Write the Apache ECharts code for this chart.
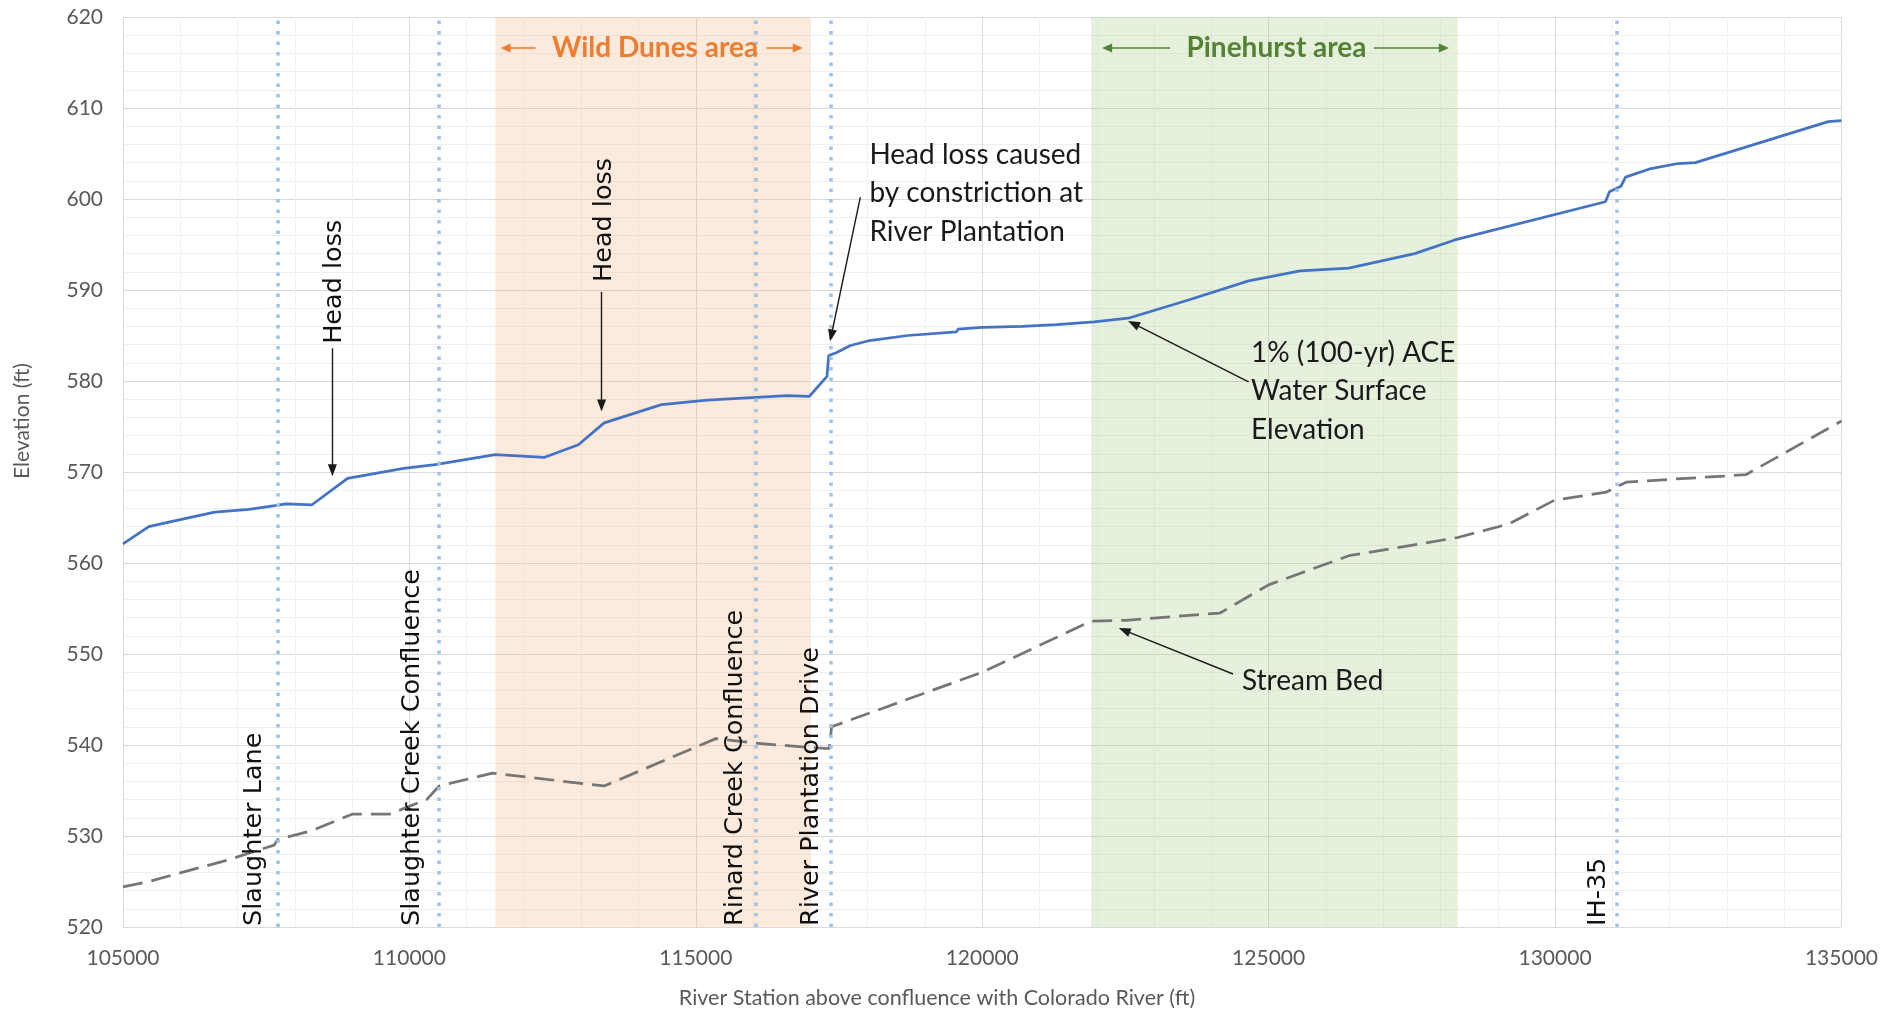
<!DOCTYPE html>
<html>
<head>
<meta charset="utf-8">
<script src="https://cdn.jsdelivr.net/npm/echarts@6/dist/echarts.min.js"></script>
<style>
html,body{margin:0;padding:0;background:#ffffff;}
#c{width:1881px;height:1010px;}
</style>
</head>
<body>
<div id="c"></div>
<script>
// ---------- DATA ----------
const wsStation = [105000,105450,105800,106600,107200,107650,107850,108300,108920,109900,110450,111500,112350,112950,113400,114400,115200,116050,116600,116980,117290,117320,117450,117700,118000,118700,119550,119580,120000,120700,121300,121950,122550,123600,124650,125550,126400,127550,128250,130880,130950,131150,131230,131650,132150,132450,134770,135000];
const wsElev    = [562.1,564.0,564.5,565.6,565.9,566.3,566.5,566.4,569.3,570.4,570.8,571.9,571.6,573.0,575.4,577.4,577.9,578.2,578.4,578.3,580.5,582.8,583.1,583.9,584.4,585.0,585.4,585.7,585.9,586.0,586.2,586.5,586.9,588.9,591.0,592.1,592.4,594.0,595.5,599.7,600.8,601.4,602.4,603.3,603.9,604.0,608.5,608.6];

const bedStation = [105000,105450,106850,107640,107700,108300,109000,109650,110300,110520,111450,113400,115350,116050,116850,117330,117370,120000,121900,122500,124150,125000,126400,128300,129200,129990,130900,131080,131250,133330,135000];
const bedElev    = [524.4,525.0,527.4,529.0,529.6,530.6,532.4,532.4,534.0,535.5,536.9,535.5,540.7,540.2,539.8,539.6,542.0,548.0,553.6,553.7,554.5,557.6,560.8,562.8,564.3,566.9,567.8,568.4,568.9,569.7,575.6];

const areaNames = ['Wild Dunes area', 'Pinehurst area'];
const areaStart = [111500, 121900];
const areaEnd   = [117000, 128300];

const landmarkNames    = ['Slaughter Lane', 'Slaughter Creek Confluence', 'Rinard Creek Confluence', 'River Plantation Drive', 'IH-35'];
const landmarkStations = [107700, 110520, 116040, 117350, 131080];

const xTickLabels = ['105000','110000','115000','120000','125000','130000','135000'];
const yTickLabels = ['520','530','540','550','560','570','580','590','600','610','620'];

// ---------- ANNOTATION PLACEMENT (data space) ----------
const callouts = [
  {text:'Head loss caused\nby constriction at\nRiver Plantation', at:[118030, 607.0], from:[117872, 600.2], to:[117365, 585.0]},
  {text:'1% (100-yr) ACE\nWater Surface\nElevation', at:[124692, 585.2], from:[124650, 579.9], to:[122640, 586.3]},
  {text:'Stream Bed', at:[124535, 549.2], from:[124378, 547.8], to:[122480, 552.6]}
];
const headLoss = [
  {at:[108698, 590.9], from:[108656, 583.6], to:[108656, 570.2]},
  {at:[113407, 597.7], from:[113355, 589.8], to:[113355, 577.3]}
];
const areaArrows = [
  {center:[114288, 616.6], left:[112200, 111680], right:[116230, 116780]},
  {center:[125137, 616.6], left:[123279, 122180], right:[126837, 128060]}
];
const areaColors = ['rgba(244,177,131,0.27)', 'rgba(169,209,142,0.3)'];
const areaTextColors = ['#ed7d31', '#548235'];

// ---------- CHART ----------
const chart = echarts.init(document.getElementById('c'), null, {renderer: 'canvas'});
const zip = (xs, ys) => xs.map((x, i) => [x, ys[i]]);

const arrowLines = [];
callouts.forEach(c => arrowLines.push([{coord: c.from}, {coord: c.to}]));
headLoss.forEach(c => arrowLines.push([{coord: c.from}, {coord: c.to}]));

function areaArrowLines(i) {
  const a = areaArrows[i];
  const y = a.center[1];
  return [
    [{coord: [a.left[0], y]}, {coord: [a.left[1], y]}],
    [{coord: [a.right[0], y]}, {coord: [a.right[1], y]}]
  ];
}

const option = {
  animation: false,
  backgroundColor: '#ffffff',
  grid: {left: 123, right: 38, top: 17, bottom: 83},
  xAxis: {
    type: 'value', min: 105000, max: 135000, interval: 5000,
    axisLine: {show: false}, axisTick: {show: false},
    axisLabel: {color: '#595959', fontFamily: 'Lato', fontSize: 21, margin: 21,
      formatter: v => xTickLabels[Math.round((v - 105000) / 5000)]},
    splitLine: {show: true, lineStyle: {color: '#d9d9d9', width: 1}},
    minorTick: {show: false, splitNumber: 5},
    minorSplitLine: {show: true, lineStyle: {color: '#f2f2f2', width: 1}}
  },
  yAxis: {
    type: 'value', min: 520, max: 620, interval: 10,
    axisLine: {show: false}, axisTick: {show: false},
    axisLabel: {color: '#595959', fontFamily: 'Lato', fontSize: 21, margin: 20,
      formatter: v => yTickLabels[Math.round((v - 520) / 10)]},
    splitLine: {show: true, lineStyle: {color: '#d9d9d9', width: 1}},
    minorTick: {show: false, splitNumber: 5},
    minorSplitLine: {show: true, lineStyle: {color: '#efefef', width: 1}}
  },
  series: [
    {
      type: 'line', name: 'areas', data: [], silent: true, z: 1,
      markArea: {
        silent: true,
        data: areaNames.map((n, i) => [
          {name: '', xAxis: areaStart[i], itemStyle: {color: areaColors[i]}},
          {xAxis: areaEnd[i]}
        ])
      }
    },
    {
      type: 'line', name: 'landmarks', data: [], silent: true, z: 2,
      markLine: {
        silent: true, symbol: ['none', 'none'],
        label: {show: false},
        lineStyle: {color: '#9dc3e6', width: 3.5, type: [3.5, 7], cap: 'butt'},
        data: landmarkStations.map(s => ({xAxis: s}))
      }
    },
    {
      type: 'line', name: '1% (100-yr) ACE Water Surface Elevation',
      data: zip(wsStation, wsElev), showSymbol: false, symbol: 'none', z: 4,
      lineStyle: {color: '#4472c4', width: 2.75}
    },
    {
      type: 'line', name: 'Stream Bed',
      data: zip(bedStation, bedElev), showSymbol: false, symbol: 'none', z: 4,
      lineStyle: {color: '#767676', width: 2.75, type: [20, 9]}
    },
    {
      type: 'line', name: 'arrows', data: [], silent: true, z: 5,
      markLine: {
        silent: true, symbol: ['none', 'triangle'], symbolSize: [9, 12],
        label: {show: false},
        lineStyle: {color: '#1a1a1a', width: 1.4, type: 'solid'},
        emphasis: {disabled: true},
        data: arrowLines
      }
    },
    {
      type: 'line', name: 'wdArrows', data: [], silent: true, z: 5,
      markLine: {
        silent: true, symbol: ['none', 'triangle'], symbolSize: [9, 10],
        label: {show: false},
        lineStyle: {color: areaTextColors[0], width: 1.6, type: 'solid'},
        itemStyle: {color: areaTextColors[0]},
        data: areaArrowLines(0)
      }
    },
    {
      type: 'line', name: 'phArrows', data: [], silent: true, z: 5,
      markLine: {
        silent: true, symbol: ['none', 'triangle'], symbolSize: [9, 10],
        label: {show: false},
        lineStyle: {color: areaTextColors[1], width: 1.6, type: 'solid'},
        itemStyle: {color: areaTextColors[1]},
        data: areaArrowLines(1)
      }
    }
  ]
};
chart.setOption(option);

// ---------- TEXT ANNOTATIONS ----------
const px = p => chart.convertToPixel({gridIndex: 0}, p);
const g = [];

// area titles
areaNames.forEach((n, i) => {
  const p = px(areaArrows[i].center);
  g.push({type: 'text', x: p[0], y: p[1], z: 10, silent: true,
    style: {text: n, fill: areaTextColors[i], fontFamily: 'Lato', fontWeight: 'bold', fontSize: 28,
      align: 'center', verticalAlign: 'middle'}});
});

// landmark labels (rotated)
const landmarkOffset = [23, 27, 20, 19, 19];
landmarkNames.forEach((n, i) => {
  const p = px([landmarkStations[i], 520]);
  g.push({type: 'text', x: p[0] - landmarkOffset[i], y: p[1] - 1, rotation: Math.PI / 2, z: 10, silent: true,
    style: {text: n, fill: '#111111', fontFamily: 'DejaVu Sans', fontSize: 25.5,
      align: 'left', verticalAlign: 'middle'}});
});

// head loss labels (rotated)
headLoss.forEach(h => {
  const p = px(h.at);
  g.push({type: 'text', x: p[0], y: p[1], rotation: Math.PI / 2, z: 10, silent: true,
    style: {text: 'Head loss', fill: '#111111', fontFamily: 'DejaVu Sans', fontSize: 25.5,
      align: 'center', verticalAlign: 'middle'}});
});

// callouts
callouts.forEach(c => {
  const p = px(c.at);
  g.push({type: 'text', x: p[0], y: p[1], z: 10, silent: true,
    style: {text: c.text, fill: '#1a1a1a', fontFamily: 'Lato', fontSize: 28, lineHeight: 38.5,
      align: 'left', verticalAlign: 'top'}});
});

// axis titles
const gridBottomLeft = px([105000, 520]);
g.push({type: 'text', x: 22, y: 421, rotation: Math.PI / 2, z: 10, silent: true,
  style: {text: 'Elevation (ft)', fill: '#595959', fontFamily: 'Lato', fontSize: 21,
    align: 'center', verticalAlign: 'middle'}});
g.push({type: 'text', x: 937, y: gridBottomLeft[1] + 71, z: 10, silent: true,
  style: {text: 'River Station above confluence with Colorado River (ft)', fill: '#595959',
    fontFamily: 'Lato', fontSize: 21.5, align: 'center', verticalAlign: 'middle'}});

chart.setOption({graphic: g});
</script>
</body>
</html>
